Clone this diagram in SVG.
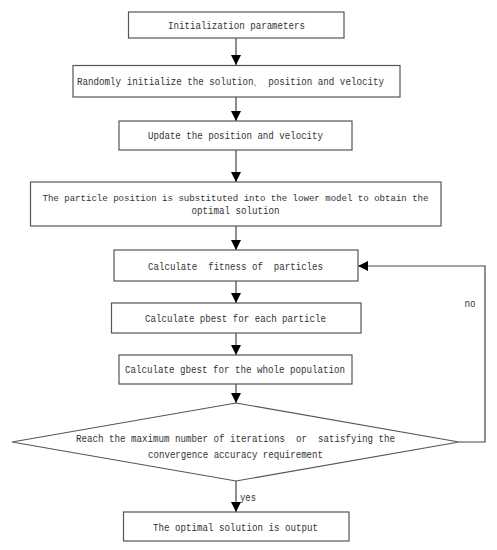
<svg xmlns="http://www.w3.org/2000/svg" width="497" height="550" viewBox="0 0 497 550">
<defs>
<marker id="ah" viewBox="0 0 10 10" refX="10" refY="5" markerWidth="10" markerHeight="10" markerUnits="userSpaceOnUse" orient="auto">
<path d="M0,0 L10,5 L0,10 Z" fill="#000"/>
</marker>
<style>
.box{fill:#fff;stroke:#555;stroke-width:1.2}
.t{font-family:"Liberation Mono",monospace;font-size:11px;fill:#333;text-anchor:middle;white-space:pre}
.c{fill:none;stroke:#444;stroke-width:1.2}
</style>
</defs>
<rect width="497" height="550" fill="#fff"/>
<g id="connectors">
<line class="c" x1="236" y1="38" x2="236" y2="65" marker-end="url(#ah)"/>
<line class="c" x1="236" y1="97" x2="236" y2="121" marker-end="url(#ah)"/>
<line class="c" x1="236" y1="150" x2="236" y2="182" marker-end="url(#ah)"/>
<line class="c" x1="236" y1="226" x2="236" y2="250" marker-end="url(#ah)"/>
<line class="c" x1="236" y1="281" x2="236" y2="303" marker-end="url(#ah)"/>
<line class="c" x1="236" y1="333" x2="236" y2="355" marker-end="url(#ah)"/>
<line class="c" x1="236" y1="384" x2="236" y2="403" marker-end="url(#ah)"/>
<line class="c" x1="236" y1="481" x2="236" y2="512" marker-end="url(#ah)"/>
<polyline class="c" points="459,442 485,442 485,266 358,266" marker-end="url(#ah)"/>
<text class="t" x="470" y="307" textLength="11" lengthAdjust="spacingAndGlyphs">no</text>
<text class="t" x="248" y="501" textLength="16" lengthAdjust="spacingAndGlyphs">yes</text>
</g>
<g id="n1">
<rect class="box" x="128.5" y="12" width="215.5" height="26"/>
<text class="t" x="236.5" y="28.5" textLength="137" lengthAdjust="spacingAndGlyphs">Initialization parameters</text>
</g>
<g id="n2">
<rect class="box" x="73" y="65.5" width="327" height="31.5"/>
<text class="t" x="230.5" y="85" textLength="307" lengthAdjust="spacingAndGlyphs">Randomly initialize the solution、 position and velocity</text>
</g>
<g id="n3">
<rect class="box" x="119" y="121" width="233" height="29"/>
<text class="t" x="235.5" y="139" textLength="175" lengthAdjust="spacingAndGlyphs">Update the position and velocity</text>
</g>
<g id="n4">
<rect class="box" x="30.5" y="182" width="410.5" height="44"/>
<text class="t" x="235.5" y="200.5" style="font-size:9.2px" textLength="386" lengthAdjust="spacingAndGlyphs">The particle position is substituted into the lower model to obtain the</text>
<text class="t" x="235.5" y="214" textLength="88" lengthAdjust="spacingAndGlyphs">optimal solution</text>
</g>
<g id="n5">
<rect class="box" x="114" y="250" width="244" height="31"/>
<text class="t" x="235.5" y="269.5" textLength="175" lengthAdjust="spacingAndGlyphs">Calculate  fitness of  particles</text>
</g>
<g id="n6">
<rect class="box" x="111.5" y="303" width="249.5" height="30"/>
<text class="t" x="235.5" y="321.5" textLength="181" lengthAdjust="spacingAndGlyphs">Calculate pbest for each particle</text>
</g>
<g id="n7">
<rect class="box" x="119" y="355" width="233" height="29"/>
<text class="t" x="235" y="372.5" textLength="220" lengthAdjust="spacingAndGlyphs">Calculate gbest for the whole population</text>
</g>
<g id="n8">
<polygon class="box" points="236,403 459,442 236,481 12,442"/>
<text class="t" x="235.5" y="442" textLength="319" lengthAdjust="spacingAndGlyphs">Reach the maximum number of iterations  or  satisfying the</text>
<text class="t" x="235.5" y="457.5" textLength="175" lengthAdjust="spacingAndGlyphs">convergence accuracy requirement</text>
</g>
<g id="n9">
<rect class="box" x="123.5" y="512" width="225.5" height="29"/>
<text class="t" x="235.5" y="530.5" textLength="165" lengthAdjust="spacingAndGlyphs">The optimal solution is output</text>
</g>
</svg>
